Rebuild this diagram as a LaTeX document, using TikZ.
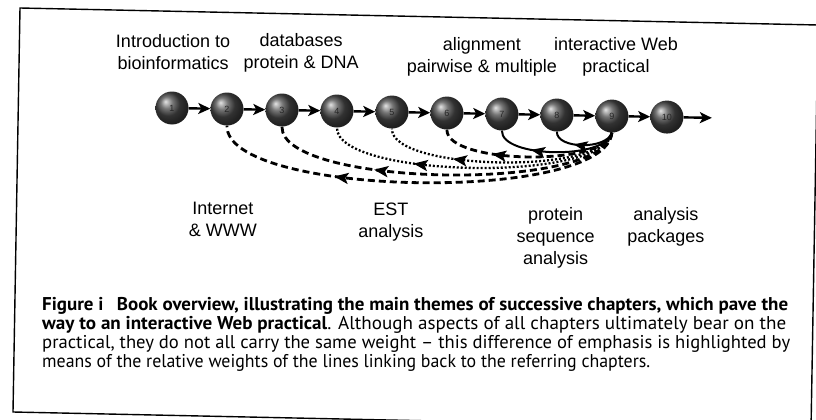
\documentclass[tikz,border=0pt]{standalone}
\usepackage{fontspec}
\usepackage{graphicx}
\setmainfont{Liberation Sans}
\newfontfamily\capfont{PT Sans}
\usetikzlibrary{arrows.meta,decorations.markings}
\newcommand\fitline[2]{\resizebox{#1}{\height}{#2}}
\begin{document}
\begin{tikzpicture}[x=1pt,y=-1pt,
  ball/.style={circle,minimum size=33pt,inner sep=0pt,shading=ball,ball color=black!72,
    font=\fontsize{9}{9}\selectfont,text=black!85},
  fwd/.style={line width=2.4pt,-{Stealth[length=12pt,width=11pt,inset=3pt]}},
  lab/.style={align=center,font=\fontsize{18}{22}\selectfont,inner sep=0pt},
  backmark/.style={postaction={decorate},decoration={markings,
    mark=at position #1 with {\arrow{Stealth[length=14pt,width=11pt,inset=3pt]}}}},
  solidlink/.style={line width=2pt},
  dashlink/.style={line width=2.8pt,dash pattern=on 7pt off 4pt},
  dotlink/.style={line width=2.3pt,dash pattern=on 2pt off 2pt},
  frame/.style={line width=1.4pt},
  caption/.style={anchor=north west,inner sep=0pt,align=left,
    font=\capfont\fontsize{18.5}{19}\selectfont}]
\useasboundingbox (0,0) rectangle (816,420);
\clip (0,0) rectangle (816,420);
\fill[white] (0,0) rectangle (816,420);
% frame
\draw[frame] (20,8) -- (818,25) -- (811,429) -- (13,412) -- cycle;

\begin{scope}[rotate around={-1.05:(172,108)}]
% spheres
\foreach \i in {1,...,10} {
  \node[ball] (s\i) at ({172+55*(\i-1)},108) {\i};
}
\coordinate (end) at (712,108);
% forward arrows
\foreach \i [evaluate=\i as \j using int(\i+1)] in {1,...,9} {
  \draw[fwd] (s\i) -- (s\j);
}
\draw[fwd] (s10) -- (end);

% links back from the practical
\draw[dashlink,backmark=0.7] (s9.south) .. controls (607,196) and (227,196) .. (s2.south);
\draw[dashlink,backmark=0.7] (s9.south) .. controls (607,185) and (282,185) .. (s3.south);
\draw[dotlink,backmark=0.7] (s9.south) .. controls (607,175) and (337,175) .. (s4.south);
\draw[dotlink,backmark=0.7] (s9.south) .. controls (607,167) and (392,167) .. (s5.south);
\draw[dashlink,backmark=0.7] (s9.south) .. controls (607,159) and (447,159) .. (s6.south);
\draw[solidlink,backmark=0.7] (s9.south) .. controls (607,152) and (502,152) .. (s7.south);
\draw[solidlink,backmark=0.65] (s9.south) .. controls (607,142) and (557,142) .. (s8.south);

% labels above
\node[lab] (l1) at (172,52) {Introduction to\\bioinformatics};
\node[lab] (l2) at (300,50) {databases\\protein \& DNA};
\node[lab] (l3) at (481,51) {alignment\\pairwise \& multiple};
\node[lab] (l4) at (615,49) {interactive Web\\practical};
% labels below
\node[lab] (b1) at (225,218) {Internet\\\& WWW};
\node[lab] (b2) at (393,218) {EST\\analysis};
\node[lab] (b3) at (558,231) {protein\\sequence\\analysis};
\node[lab] (b4) at (668,218) {analysis\\packages};
\end{scope}

% caption
\node[caption] (cap) at (42,297) {%
\fitline{746pt}{\textbf{Figure i\hspace{0.45em} Book overview, illustrating the main themes of successive chapters, which pave the}}\\
\fitline{744pt}{\textbf{way to an interactive Web practical}. Although aspects of all chapters ultimately bear on the}\\
\fitline{748pt}{practical, they do not all carry the same weight – this difference of emphasis is highlighted by}\\
\fitline{608pt}{means of the relative weights of the lines linking back to the referring chapters.}};
\end{tikzpicture}
\end{document}
